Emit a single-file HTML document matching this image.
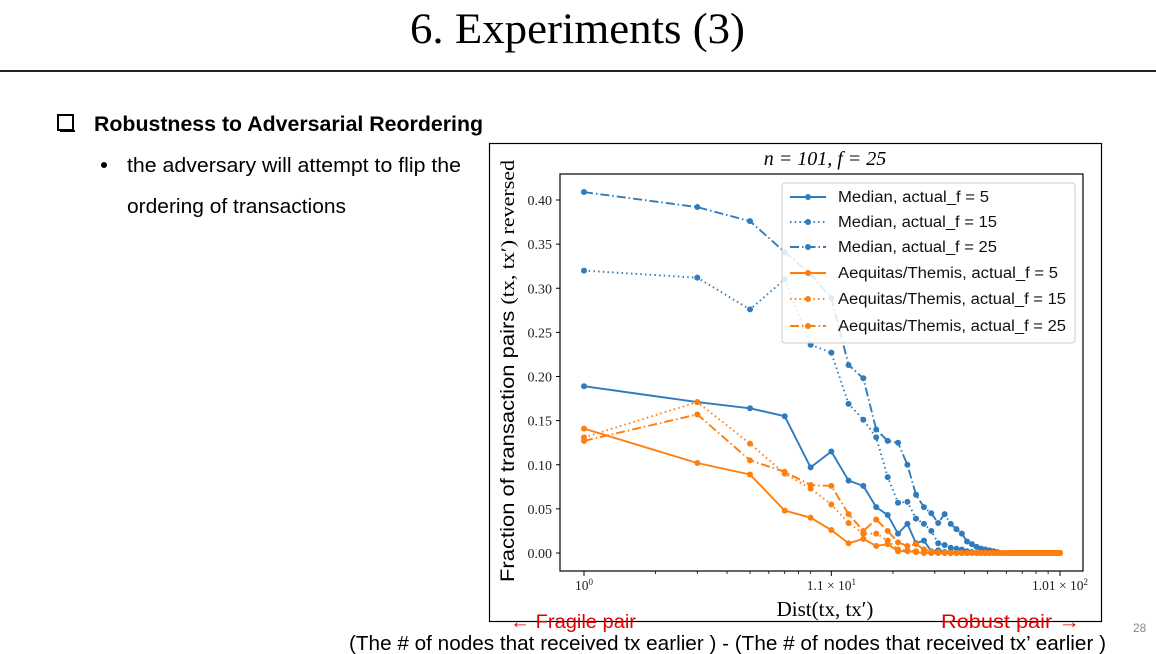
<!DOCTYPE html>
<html><head><meta charset="utf-8"><style>
html,body{margin:0;padding:0;background:#fff;}
svg{display:block;}
.sans{font-family:"Liberation Sans","DejaVu Sans",sans-serif;}
.serif{font-family:"Liberation Serif","DejaVu Serif",serif;}
</style></head><body>
<svg id="s" width="1156" height="654" viewBox="0 0 1156 654" xmlns="http://www.w3.org/2000/svg">
<text x="410" y="43" textLength="335" lengthAdjust="spacingAndGlyphs" class="serif" font-size="43" fill="#000">6. Experiments (3)</text>
<rect x="0" y="70" width="1156" height="2" fill="#222"/>
<rect x="58" y="115" width="15" height="15" fill="none" stroke="#000" stroke-width="2"/>
<rect x="60" y="130" width="15" height="2" fill="#000"/>
<text x="94" y="131" textLength="389" lengthAdjust="spacingAndGlyphs" class="sans" font-size="21" font-weight="bold">Robustness to Adversarial Reordering</text>
<circle cx="104" cy="165" r="3" fill="#000"/>
<text x="127" y="172" textLength="334" lengthAdjust="spacingAndGlyphs" class="sans" font-size="20">the adversary will attempt to flip the</text>
<text x="127" y="213" textLength="219" lengthAdjust="spacingAndGlyphs" class="sans" font-size="20">ordering of transactions</text>
<rect x="489.5" y="143.5" width="612" height="478" fill="#fff" stroke="#000" stroke-width="1.2"/>
<text x="825" y="165" text-anchor="middle" class="serif" font-size="20" font-style="italic">n = 101, f = 25</text>
<g id="plot"></g>
<text x="825" y="616" text-anchor="middle" class="serif" font-size="21">Dist(tx, tx′)</text>
<text transform="translate(514,371) rotate(-90)" x="-211" y="0" textLength="422" lengthAdjust="spacingAndGlyphs" class="sans" font-size="19">Fraction of transaction pairs <tspan class="serif">(tx, tx′) reversed</tspan></text>
<text x="510" y="628" textLength="126" lengthAdjust="spacingAndGlyphs" class="sans" font-size="19" fill="#e00000">← Fragile pair</text>
<text x="941" y="628" textLength="139" lengthAdjust="spacingAndGlyphs" class="sans" font-size="19" fill="#e00000">Robust pair  →</text>
<text x="349" y="650" textLength="757" lengthAdjust="spacingAndGlyphs" class="sans" font-size="20">(The # of nodes that received tx earlier ) - (The # of nodes that received tx’ earlier )</text>
<text x="1133" y="632" class="sans" font-size="12" fill="#888">28</text>
</svg>
<script>
const xValues=[1,3,5,7,9,11,13,15,17,19,21,23,25,27,29,31,33,35,37,39,41,43,45,47,49,51,53,55,57,59,61,63,65,67,69,71,73,75,77,79,81,83,85,87,89,91,93,95,97,99,101];
const medianF5=[0.189,0.171,0.164,0.155,0.097,0.115,0.082,0.076,0.052,0.043,0.022,0.033,0.011,0.014,0.002,0.003,0.001,0.001,0,0,0,0,0,0,0,0,0,0,0,0,0,0,0,0,0,0,0,0,0,0,0,0,0,0,0,0,0,0,0,0,0];
const medianF15=[0.320,0.312,0.276,0.310,0.236,0.227,0.169,0.151,0.131,0.086,0.057,0.058,0.039,0.033,0.025,0.011,0.009,0.006,0.005,0.004,0.002,0.001,0,0,0,0,0,0,0,0,0,0,0,0,0,0,0,0,0,0,0,0,0,0,0,0,0,0,0,0,0];
const medianF25=[0.409,0.392,0.376,0.341,0.316,0.289,0.213,0.198,0.140,0.127,0.125,0.100,0.066,0.052,0.045,0.034,0.044,0.033,0.027,0.022,0.013,0.010,0.007,0.005,0.004,0.003,0.002,0.001,0,0,0,0,0,0,0,0,0,0,0,0,0,0,0,0,0,0,0,0,0,0,0];
const aequitasF5=[0.141,0.102,0.089,0.048,0.040,0.026,0.011,0.016,0.008,0.010,0.002,0.002,0.001,0,0,0,0,0,0,0,0,0,0,0,0,0,0,0,0,0,0,0,0,0,0,0,0,0,0,0,0,0,0,0,0,0,0,0,0,0,0];
const aequitasF15=[0.131,0.171,0.124,0.090,0.073,0.055,0.034,0.022,0.022,0.014,0.004,0.003,0.002,0.001,0,0,0,0,0,0,0,0,0,0,0,0,0,0,0,0,0,0,0,0,0,0,0,0,0,0,0,0,0,0,0,0,0,0,0,0,0];
const aequitasF25=[0.127,0.157,0.105,0.092,0.077,0.076,0.044,0.025,0.038,0.025,0.012,0.008,0.010,0.004,0.002,0.001,0,0,0,0,0,0,0,0,0,0,0,0,0,0,0,0,0,0,0,0,0,0,0,0,0,0,0,0,0,0,0,0,0,0,0];
const yTicks=[0.00,0.05,0.10,0.15,0.20,0.25,0.30,0.35,0.40];
const xMajorTicks=[1,11,101];
const xMajorLabels=[["10","0"],["1.1 × 10","1"],["1.01 × 10","2"]];
const xMinorTicks=[2,3,4,5,6,7,8,9,20,30,40,50,60,70,80,90];
const seriesNames=["Median, actual_f = 5","Median, actual_f = 15","Median, actual_f = 25","Aequitas/Themis, actual_f = 5","Aequitas/Themis, actual_f = 15","Aequitas/Themis, actual_f = 25"];

const NS="http://www.w3.org/2000/svg";
const L=560,R=1083,T=174,B=571;
const X=v=>584+237.5*Math.log10(v);
const Y=v=>553-882.5*v;
const g=document.getElementById('plot');
function mk(tag,attrs,parent){const e=document.createElementNS(NS,tag);for(const k in attrs)e.setAttribute(k,attrs[k]);(parent||g).appendChild(e);return e;}

const bg=mk('rect',{x:L,y:T,width:R-L,height:B-T,fill:'#fff'});



yTicks.forEach(t=>{
  const tk=mk('line',{x1:L-4,x2:L,y1:Y(t),y2:Y(t),stroke:'#000','stroke-width':1});
  
  
  const tx=mk('text',{x:L-8,y:Y(t)+5,'text-anchor':'end','font-size':14,class:'serif',fill:'#222'});
  tx.textContent=t.toFixed(2);
  
  
});
xMinorTicks.forEach(t=>{
  const tk=mk('line',{x1:X(t),x2:X(t),y1:B,y2:B+3,stroke:'#000','stroke-width':0.8});
  
  
});
xMajorTicks.forEach((t,i)=>{
  const tk=mk('line',{x1:X(t),x2:X(t),y1:B,y2:B+5,stroke:'#000','stroke-width':1});
  
  
  const tx=mk('text',{x:X(t),y:B+19,'text-anchor':'middle','font-size':13.5,class:'serif',fill:'#222'});
  tx.textContent=xMajorLabels[i][0];
  const sp=mk('tspan',{dy:-5,'font-size':9},tx);sp.textContent=xMajorLabels[i][1];
  
  
});

const allSeries=[medianF5,medianF15,medianF25,aequitasF5,aequitasF15,aequitasF25];
const colors=['#2f7bbd','#2f7bbd','#2f7bbd','#ff7f0e','#ff7f0e','#ff7f0e'];
const dashes=['none','1.5,3.2','9,3,1.5,3','none','1.5,3.2','9,3,1.5,3'];
const clip=mk('clipPath',{id:'cp'});mk('rect',{x:L,y:T,width:R-L,height:B-T},clip);
allSeries.forEach((arr,si)=>{
  const grp=mk('g',{'clip-path':'url(#cp)'});
  
  
  const d=arr.map((v,i)=>(i?'L':'M')+X(xValues[i]).toFixed(1)+','+Y(v).toFixed(1)).join('');
  const p=mk('path',{d:d,fill:'none',stroke:colors[si],'stroke-width':1.9,'stroke-dasharray':dashes[si],'stroke-linejoin':'round'},grp);
  
  
  arr.forEach((v,i)=>{
    const c=mk('circle',{cx:X(xValues[i]),cy:Y(v),r:3,fill:colors[si]},grp);
    
    
  });
});
const frame=mk('rect',{x:L,y:T,width:R-L,height:B-T,fill:'none',stroke:'#000','stroke-width':1.2});



const lg=mk('g',{});


mk('rect',{x:782,y:183,width:293,height:160,rx:3,fill:'#fff','fill-opacity':0.85,stroke:'#ccc','stroke-width':1},lg);
const ly=[197,222,247,273,299,326];
const lw=[151,159,159,220,228,228];
seriesNames.forEach((n,i)=>{
  const e=mk('g',{},lg);
  
  
  mk('line',{x1:790,x2:826,y1:ly[i],y2:ly[i],stroke:colors[i],'stroke-width':1.9,'stroke-dasharray':dashes[i]},e);
  mk('circle',{cx:808,cy:ly[i],r:3,fill:colors[i]},e);
  const t=mk('text',{x:838,y:ly[i]+5,'font-size':15.5,class:'sans',fill:'#111',textLength:lw[i],lengthAdjust:'spacingAndGlyphs'},e);
  t.textContent=n;
});
</script>
</body></html>
